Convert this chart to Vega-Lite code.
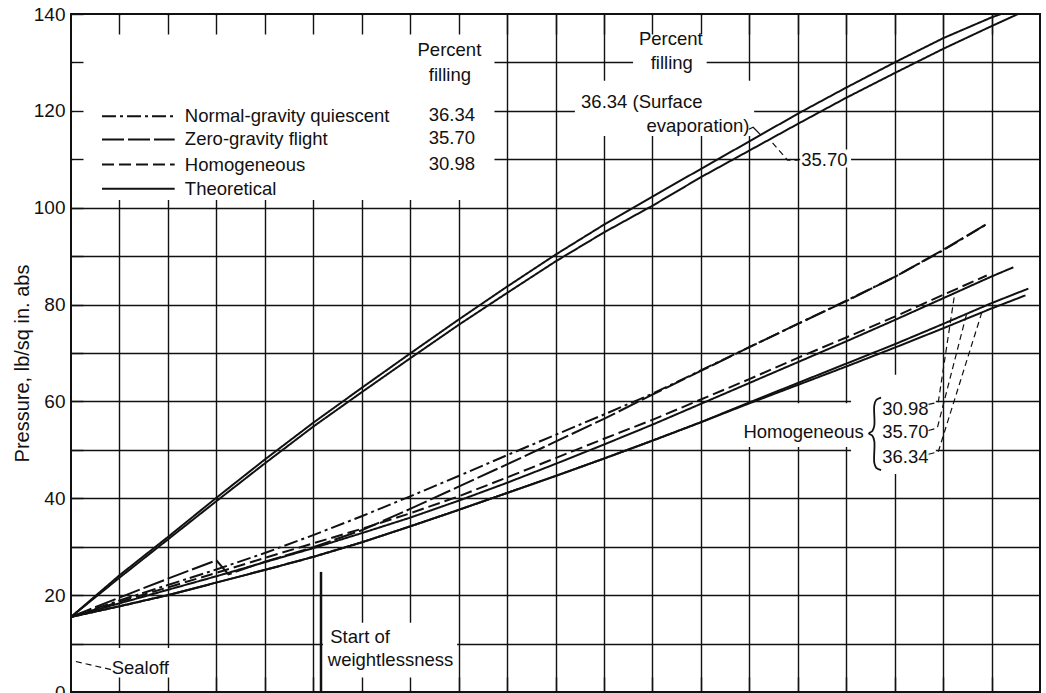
{
  "$schema": "https://vega.github.io/schema/vega-lite/v6.json",
  "width": 969,
  "height": 678,
  "autosize": "none",
  "padding": {"left": 71, "top": 14, "right": 6, "bottom": 1},
  "background": "white",
  "config": {
    "view": {"stroke": "#111", "strokeWidth": 2},
    "font": "Liberation Sans",
    "text": {"font": "Liberation Sans", "fontSize": 18.5, "color": "#111"}
  },
  "datasets": {
    "curves": [
      {"s": "Surface evaporation 36.34", "kind": "Theoretical", "t": 0, "p": 15.5},
      {"s": "Surface evaporation 36.34", "kind": "Theoretical", "t": 1, "p": 24.1},
      {"s": "Surface evaporation 36.34", "kind": "Theoretical", "t": 2, "p": 32.0},
      {"s": "Surface evaporation 36.34", "kind": "Theoretical", "t": 3, "p": 40.1},
      {"s": "Surface evaporation 36.34", "kind": "Theoretical", "t": 4, "p": 48.0},
      {"s": "Surface evaporation 36.34", "kind": "Theoretical", "t": 5, "p": 55.6},
      {"s": "Surface evaporation 36.34", "kind": "Theoretical", "t": 6, "p": 62.8},
      {"s": "Surface evaporation 36.34", "kind": "Theoretical", "t": 7, "p": 69.9},
      {"s": "Surface evaporation 36.34", "kind": "Theoretical", "t": 8, "p": 76.9},
      {"s": "Surface evaporation 36.34", "kind": "Theoretical", "t": 9, "p": 83.7},
      {"s": "Surface evaporation 36.34", "kind": "Theoretical", "t": 10, "p": 90.3},
      {"s": "Surface evaporation 36.34", "kind": "Theoretical", "t": 11, "p": 96.5},
      {"s": "Surface evaporation 36.34", "kind": "Theoretical", "t": 12, "p": 102.3},
      {"s": "Surface evaporation 36.34", "kind": "Theoretical", "t": 13, "p": 108.0},
      {"s": "Surface evaporation 36.34", "kind": "Theoretical", "t": 14, "p": 113.7},
      {"s": "Surface evaporation 36.34", "kind": "Theoretical", "t": 15, "p": 119.4},
      {"s": "Surface evaporation 36.34", "kind": "Theoretical", "t": 16, "p": 124.8},
      {"s": "Surface evaporation 36.34", "kind": "Theoretical", "t": 17, "p": 130.0},
      {"s": "Surface evaporation 36.34", "kind": "Theoretical", "t": 18, "p": 135.0},
      {"s": "Surface evaporation 36.34", "kind": "Theoretical", "t": 19, "p": 139.3},
      {"s": "Surface evaporation 36.34", "kind": "Theoretical", "t": 19.2, "p": 140.0},

      {"s": "Surface evaporation 35.70", "kind": "Theoretical", "t": 0, "p": 15.5},
      {"s": "Surface evaporation 35.70", "kind": "Theoretical", "t": 1, "p": 23.6},
      {"s": "Surface evaporation 35.70", "kind": "Theoretical", "t": 2, "p": 31.5},
      {"s": "Surface evaporation 35.70", "kind": "Theoretical", "t": 3, "p": 39.4},
      {"s": "Surface evaporation 35.70", "kind": "Theoretical", "t": 4, "p": 47.2},
      {"s": "Surface evaporation 35.70", "kind": "Theoretical", "t": 5, "p": 54.8},
      {"s": "Surface evaporation 35.70", "kind": "Theoretical", "t": 6, "p": 61.9},
      {"s": "Surface evaporation 35.70", "kind": "Theoretical", "t": 7, "p": 68.9},
      {"s": "Surface evaporation 35.70", "kind": "Theoretical", "t": 8, "p": 75.8},
      {"s": "Surface evaporation 35.70", "kind": "Theoretical", "t": 9, "p": 82.4},
      {"s": "Surface evaporation 35.70", "kind": "Theoretical", "t": 10, "p": 88.9},
      {"s": "Surface evaporation 35.70", "kind": "Theoretical", "t": 11, "p": 94.9},
      {"s": "Surface evaporation 35.70", "kind": "Theoretical", "t": 12, "p": 100.4},
      {"s": "Surface evaporation 35.70", "kind": "Theoretical", "t": 13, "p": 106.3},
      {"s": "Surface evaporation 35.70", "kind": "Theoretical", "t": 14, "p": 111.8},
      {"s": "Surface evaporation 35.70", "kind": "Theoretical", "t": 15, "p": 117.3},
      {"s": "Surface evaporation 35.70", "kind": "Theoretical", "t": 16, "p": 122.7},
      {"s": "Surface evaporation 35.70", "kind": "Theoretical", "t": 17, "p": 127.8},
      {"s": "Surface evaporation 35.70", "kind": "Theoretical", "t": 18, "p": 132.8},
      {"s": "Surface evaporation 35.70", "kind": "Theoretical", "t": 19, "p": 137.5},
      {"s": "Surface evaporation 35.70", "kind": "Theoretical", "t": 19.55, "p": 140.0},

      {"s": "Quiescent 36.34", "kind": "Normal-gravity quiescent", "t": 0, "p": 15.5},
      {"s": "Quiescent 36.34", "kind": "Normal-gravity quiescent", "t": 1, "p": 18.9},
      {"s": "Quiescent 36.34", "kind": "Normal-gravity quiescent", "t": 2, "p": 22.1},
      {"s": "Quiescent 36.34", "kind": "Normal-gravity quiescent", "t": 3, "p": 25.3},
      {"s": "Quiescent 36.34", "kind": "Normal-gravity quiescent", "t": 4, "p": 28.7},
      {"s": "Quiescent 36.34", "kind": "Normal-gravity quiescent", "t": 5, "p": 32.4},
      {"s": "Quiescent 36.34", "kind": "Normal-gravity quiescent", "t": 6, "p": 36.3},
      {"s": "Quiescent 36.34", "kind": "Normal-gravity quiescent", "t": 7, "p": 40.4},
      {"s": "Quiescent 36.34", "kind": "Normal-gravity quiescent", "t": 8, "p": 44.6},
      {"s": "Quiescent 36.34", "kind": "Normal-gravity quiescent", "t": 9, "p": 48.9},
      {"s": "Quiescent 36.34", "kind": "Normal-gravity quiescent", "t": 10, "p": 53.1},
      {"s": "Quiescent 36.34", "kind": "Normal-gravity quiescent", "t": 11, "p": 57.3},
      {"s": "Quiescent 36.34", "kind": "Normal-gravity quiescent", "t": 12, "p": 61.6},
      {"s": "Quiescent 36.34", "kind": "Normal-gravity quiescent", "t": 13, "p": 66.4},
      {"s": "Quiescent 36.34", "kind": "Normal-gravity quiescent", "t": 14, "p": 71.2},
      {"s": "Quiescent 36.34", "kind": "Normal-gravity quiescent", "t": 15, "p": 76.0},
      {"s": "Quiescent 36.34", "kind": "Normal-gravity quiescent", "t": 16, "p": 80.8},
      {"s": "Quiescent 36.34", "kind": "Normal-gravity quiescent", "t": 17, "p": 85.7},
      {"s": "Quiescent 36.34", "kind": "Normal-gravity quiescent", "t": 18, "p": 91.2},
      {"s": "Quiescent 36.34", "kind": "Normal-gravity quiescent", "t": 18.9, "p": 96.6},

      {"s": "Flight 35.70", "kind": "Zero-gravity flight", "t": 0, "p": 15.5},
      {"s": "Flight 35.70", "kind": "Zero-gravity flight", "t": 1, "p": 19.5},
      {"s": "Flight 35.70", "kind": "Zero-gravity flight", "t": 2, "p": 23.4},
      {"s": "Flight 35.70", "kind": "Zero-gravity flight", "t": 3, "p": 27.2},
      {"s": "Flight 35.70", "kind": "Zero-gravity flight", "t": 3.25, "p": 24.3},
      {"s": "Flight 35.70", "kind": "Zero-gravity flight", "t": 4, "p": 26.9},
      {"s": "Flight 35.70", "kind": "Zero-gravity flight", "t": 5, "p": 29.9},
      {"s": "Flight 35.70", "kind": "Zero-gravity flight", "t": 6, "p": 33.4},
      {"s": "Flight 35.70", "kind": "Zero-gravity flight", "t": 7, "p": 37.8},
      {"s": "Flight 35.70", "kind": "Zero-gravity flight", "t": 8, "p": 42.4},
      {"s": "Flight 35.70", "kind": "Zero-gravity flight", "t": 9, "p": 47.0},
      {"s": "Flight 35.70", "kind": "Zero-gravity flight", "t": 10, "p": 51.7},
      {"s": "Flight 35.70", "kind": "Zero-gravity flight", "t": 11, "p": 56.4},
      {"s": "Flight 35.70", "kind": "Zero-gravity flight", "t": 12, "p": 61.4},
      {"s": "Flight 35.70", "kind": "Zero-gravity flight", "t": 13, "p": 66.3},
      {"s": "Flight 35.70", "kind": "Zero-gravity flight", "t": 14, "p": 71.2},
      {"s": "Flight 35.70", "kind": "Zero-gravity flight", "t": 15, "p": 76.0},
      {"s": "Flight 35.70", "kind": "Zero-gravity flight", "t": 16, "p": 80.7},
      {"s": "Flight 35.70", "kind": "Zero-gravity flight", "t": 17, "p": 85.7},
      {"s": "Flight 35.70", "kind": "Zero-gravity flight", "t": 18, "p": 91.3},
      {"s": "Flight 35.70", "kind": "Zero-gravity flight", "t": 18.93, "p": 96.8},

      {"s": "Homogeneous 30.98", "kind": "Homogeneous", "t": 0, "p": 15.5},
      {"s": "Homogeneous 30.98", "kind": "Homogeneous", "t": 1, "p": 18.6},
      {"s": "Homogeneous 30.98", "kind": "Homogeneous", "t": 2, "p": 21.6},
      {"s": "Homogeneous 30.98", "kind": "Homogeneous", "t": 3, "p": 24.6},
      {"s": "Homogeneous 30.98", "kind": "Homogeneous", "t": 4, "p": 27.7},
      {"s": "Homogeneous 30.98", "kind": "Homogeneous", "t": 5, "p": 30.7},
      {"s": "Homogeneous 30.98", "kind": "Homogeneous", "t": 6, "p": 33.7},
      {"s": "Homogeneous 30.98", "kind": "Homogeneous", "t": 7, "p": 36.9},
      {"s": "Homogeneous 30.98", "kind": "Homogeneous", "t": 8, "p": 40.4},
      {"s": "Homogeneous 30.98", "kind": "Homogeneous", "t": 9, "p": 44.3},
      {"s": "Homogeneous 30.98", "kind": "Homogeneous", "t": 10, "p": 48.3},
      {"s": "Homogeneous 30.98", "kind": "Homogeneous", "t": 11, "p": 52.3},
      {"s": "Homogeneous 30.98", "kind": "Homogeneous", "t": 12, "p": 56.2},
      {"s": "Homogeneous 30.98", "kind": "Homogeneous", "t": 13, "p": 60.4},
      {"s": "Homogeneous 30.98", "kind": "Homogeneous", "t": 14, "p": 64.6},
      {"s": "Homogeneous 30.98", "kind": "Homogeneous", "t": 15, "p": 69.0},
      {"s": "Homogeneous 30.98", "kind": "Homogeneous", "t": 16, "p": 73.2},
      {"s": "Homogeneous 30.98", "kind": "Homogeneous", "t": 17, "p": 77.5},
      {"s": "Homogeneous 30.98", "kind": "Homogeneous", "t": 18, "p": 82.0},
      {"s": "Homogeneous 30.98", "kind": "Homogeneous", "t": 18.9, "p": 86.0},

      {"s": "Theoretical homogeneous 30.98", "kind": "Theoretical", "t": 0, "p": 15.5},
      {"s": "Theoretical homogeneous 30.98", "kind": "Theoretical", "t": 1, "p": 18.3},
      {"s": "Theoretical homogeneous 30.98", "kind": "Theoretical", "t": 2, "p": 21.1},
      {"s": "Theoretical homogeneous 30.98", "kind": "Theoretical", "t": 3, "p": 23.9},
      {"s": "Theoretical homogeneous 30.98", "kind": "Theoretical", "t": 4, "p": 26.8},
      {"s": "Theoretical homogeneous 30.98", "kind": "Theoretical", "t": 5, "p": 29.7},
      {"s": "Theoretical homogeneous 30.98", "kind": "Theoretical", "t": 6, "p": 32.8},
      {"s": "Theoretical homogeneous 30.98", "kind": "Theoretical", "t": 7, "p": 36.0},
      {"s": "Theoretical homogeneous 30.98", "kind": "Theoretical", "t": 8, "p": 39.5},
      {"s": "Theoretical homogeneous 30.98", "kind": "Theoretical", "t": 9, "p": 43.2},
      {"s": "Theoretical homogeneous 30.98", "kind": "Theoretical", "t": 10, "p": 47.1},
      {"s": "Theoretical homogeneous 30.98", "kind": "Theoretical", "t": 11, "p": 51.1},
      {"s": "Theoretical homogeneous 30.98", "kind": "Theoretical", "t": 12, "p": 55.2},
      {"s": "Theoretical homogeneous 30.98", "kind": "Theoretical", "t": 13, "p": 59.5},
      {"s": "Theoretical homogeneous 30.98", "kind": "Theoretical", "t": 14, "p": 63.8},
      {"s": "Theoretical homogeneous 30.98", "kind": "Theoretical", "t": 15, "p": 68.1},
      {"s": "Theoretical homogeneous 30.98", "kind": "Theoretical", "t": 16, "p": 72.4},
      {"s": "Theoretical homogeneous 30.98", "kind": "Theoretical", "t": 17, "p": 76.8},
      {"s": "Theoretical homogeneous 30.98", "kind": "Theoretical", "t": 18, "p": 81.3},
      {"s": "Theoretical homogeneous 30.98", "kind": "Theoretical", "t": 19, "p": 85.8},
      {"s": "Theoretical homogeneous 30.98", "kind": "Theoretical", "t": 19.45, "p": 87.7},

      {"s": "Theoretical homogeneous 35.70", "kind": "Theoretical", "t": 0, "p": 15.5},
      {"s": "Theoretical homogeneous 35.70", "kind": "Theoretical", "t": 1, "p": 17.7},
      {"s": "Theoretical homogeneous 35.70", "kind": "Theoretical", "t": 2, "p": 20.0},
      {"s": "Theoretical homogeneous 35.70", "kind": "Theoretical", "t": 3, "p": 22.6},
      {"s": "Theoretical homogeneous 35.70", "kind": "Theoretical", "t": 4, "p": 25.2},
      {"s": "Theoretical homogeneous 35.70", "kind": "Theoretical", "t": 5, "p": 27.9},
      {"s": "Theoretical homogeneous 35.70", "kind": "Theoretical", "t": 6, "p": 30.9},
      {"s": "Theoretical homogeneous 35.70", "kind": "Theoretical", "t": 7, "p": 34.2},
      {"s": "Theoretical homogeneous 35.70", "kind": "Theoretical", "t": 8, "p": 37.6},
      {"s": "Theoretical homogeneous 35.70", "kind": "Theoretical", "t": 9, "p": 41.1},
      {"s": "Theoretical homogeneous 35.70", "kind": "Theoretical", "t": 10, "p": 44.6},
      {"s": "Theoretical homogeneous 35.70", "kind": "Theoretical", "t": 11, "p": 48.2},
      {"s": "Theoretical homogeneous 35.70", "kind": "Theoretical", "t": 12, "p": 51.9},
      {"s": "Theoretical homogeneous 35.70", "kind": "Theoretical", "t": 13, "p": 55.7},
      {"s": "Theoretical homogeneous 35.70", "kind": "Theoretical", "t": 14, "p": 59.8},
      {"s": "Theoretical homogeneous 35.70", "kind": "Theoretical", "t": 15, "p": 63.8},
      {"s": "Theoretical homogeneous 35.70", "kind": "Theoretical", "t": 16, "p": 67.8},
      {"s": "Theoretical homogeneous 35.70", "kind": "Theoretical", "t": 17, "p": 71.8},
      {"s": "Theoretical homogeneous 35.70", "kind": "Theoretical", "t": 18, "p": 76.0},
      {"s": "Theoretical homogeneous 35.70", "kind": "Theoretical", "t": 19, "p": 80.3},
      {"s": "Theoretical homogeneous 35.70", "kind": "Theoretical", "t": 19.76, "p": 83.3},

      {"s": "Theoretical homogeneous 36.34", "kind": "Theoretical", "t": 0, "p": 15.5},
      {"s": "Theoretical homogeneous 36.34", "kind": "Theoretical", "t": 1, "p": 17.7},
      {"s": "Theoretical homogeneous 36.34", "kind": "Theoretical", "t": 2, "p": 20.0},
      {"s": "Theoretical homogeneous 36.34", "kind": "Theoretical", "t": 3, "p": 22.6},
      {"s": "Theoretical homogeneous 36.34", "kind": "Theoretical", "t": 4, "p": 25.2},
      {"s": "Theoretical homogeneous 36.34", "kind": "Theoretical", "t": 5, "p": 27.9},
      {"s": "Theoretical homogeneous 36.34", "kind": "Theoretical", "t": 6, "p": 30.9},
      {"s": "Theoretical homogeneous 36.34", "kind": "Theoretical", "t": 7, "p": 34.2},
      {"s": "Theoretical homogeneous 36.34", "kind": "Theoretical", "t": 8, "p": 37.6},
      {"s": "Theoretical homogeneous 36.34", "kind": "Theoretical", "t": 9, "p": 41.1},
      {"s": "Theoretical homogeneous 36.34", "kind": "Theoretical", "t": 10, "p": 44.6},
      {"s": "Theoretical homogeneous 36.34", "kind": "Theoretical", "t": 11, "p": 48.2},
      {"s": "Theoretical homogeneous 36.34", "kind": "Theoretical", "t": 12, "p": 51.9},
      {"s": "Theoretical homogeneous 36.34", "kind": "Theoretical", "t": 13, "p": 55.7},
      {"s": "Theoretical homogeneous 36.34", "kind": "Theoretical", "t": 14, "p": 59.6},
      {"s": "Theoretical homogeneous 36.34", "kind": "Theoretical", "t": 15, "p": 63.4},
      {"s": "Theoretical homogeneous 36.34", "kind": "Theoretical", "t": 16, "p": 67.2},
      {"s": "Theoretical homogeneous 36.34", "kind": "Theoretical", "t": 17, "p": 71.1},
      {"s": "Theoretical homogeneous 36.34", "kind": "Theoretical", "t": 18, "p": 75.1},
      {"s": "Theoretical homogeneous 36.34", "kind": "Theoretical", "t": 19, "p": 79.2},
      {"s": "Theoretical homogeneous 36.34", "kind": "Theoretical", "t": 19.7, "p": 81.9}
    ],
    "labelBacks": [
      {"x0": 0.03, "x1": 8.74, "y0": 101.6, "y1": 139.7},
      {"x0": 11.6, "x1": 13.12, "y0": 126.0, "y1": 139.7},
      {"x0": 10.4, "x1": 14.1, "y0": 114.8, "y1": 126.2},
      {"x0": 15.05, "x1": 16.1, "y0": 108.3, "y1": 112.0},
      {"x0": 13.95, "x1": 16.45, "y0": 50.6, "y1": 59.6},
      {"x0": 16.1, "x1": 17.85, "y0": 45.0, "y1": 65.5},
      {"x0": 0.75, "x1": 2.15, "y0": 0.3, "y1": 9.1},
      {"x0": 5.2, "x1": 7.97, "y0": 0.3, "y1": 14.3}
    ],
    "key": [
      {"kind": "Normal-gravity quiescent", "label": "Normal-gravity quiescent", "filling": "36.34", "y": 118.9},
      {"kind": "Zero-gravity flight", "label": "Zero-gravity flight", "filling": "35.70", "y": 114.1},
      {"kind": "Homogeneous", "label": "Homogeneous", "filling": "30.98", "y": 108.9},
      {"kind": "Theoretical", "label": "Theoretical", "filling": "", "y": 103.9}
    ],
    "notes": [
      {"text": "Percent", "x": 7.81, "y": 132.6, "anchor": "center"},
      {"text": "filling", "x": 7.82, "y": 127.4, "anchor": "center"},
      {"text": "Percent", "x": 12.38, "y": 134.9, "anchor": "center"},
      {"text": "filling", "x": 12.4, "y": 129.8, "anchor": "center"},
      {"text": "36.34 (Surface", "x": 11.78, "y": 121.9, "anchor": "center"},
      {"text": "evaporation)", "x": 12.94, "y": 116.8, "anchor": "center"},
      {"text": "35.70", "x": 15.55, "y": 109.9, "anchor": "center"},
      {"text": "Homogeneous", "x": 15.12, "y": 53.6, "anchor": "center"},
      {"text": "30.98", "x": 17.22, "y": 58.4, "anchor": "center"},
      {"text": "35.70", "x": 17.22, "y": 53.6, "anchor": "center"},
      {"text": "36.34", "x": 17.22, "y": 48.5, "anchor": "center"},
      {"text": "Sealoff", "x": 1.43, "y": 5.0, "anchor": "center"},
      {"text": "Start of", "x": 5.35, "y": 11.4, "anchor": "left"},
      {"text": "weightlessness", "x": 5.3, "y": 6.6, "anchor": "left"}
    ],
    "brace": [
      {"i": 0, "x": 16.72, "y": 60.8},
      {"i": 1, "x": 16.62, "y": 60.3},
      {"i": 2, "x": 16.58, "y": 59.2},
      {"i": 3, "x": 16.58, "y": 55.0},
      {"i": 4, "x": 16.54, "y": 53.9},
      {"i": 5, "x": 16.47, "y": 53.4},
      {"i": 6, "x": 16.54, "y": 52.9},
      {"i": 7, "x": 16.58, "y": 51.8},
      {"i": 8, "x": 16.58, "y": 47.3},
      {"i": 9, "x": 16.62, "y": 46.3},
      {"i": 10, "x": 16.72, "y": 45.8}
    ],
    "leaders": [
      {"id": "evaporation", "style": "solid", "i": 0, "x": 13.99, "y": 116.2},
      {"id": "evaporation", "style": "solid", "i": 1, "x": 14.08, "y": 116.6},
      {"id": "evaporation", "style": "solid", "i": 2, "x": 14.24, "y": 115.0},
      {"id": "surface 35.70", "style": "dashed", "i": 0, "x": 14.48, "y": 113.4},
      {"id": "surface 35.70", "style": "dashed", "i": 1, "x": 14.79, "y": 109.8},
      {"id": "surface 35.70", "style": "dashed", "i": 2, "x": 15.0, "y": 109.8},
      {"id": "sealoff", "style": "dashed", "i": 0, "x": 0.1, "y": 6.3},
      {"id": "sealoff", "style": "dashed", "i": 1, "x": 0.84, "y": 4.6},
      {"id": "homogeneous 30.98", "style": "dashed", "i": 0, "x": 17.7, "y": 59.4},
      {"id": "homogeneous 30.98", "style": "dashed", "i": 1, "x": 17.9, "y": 59.8},
      {"id": "homogeneous 30.98", "style": "dashed", "i": 2, "x": 18.24, "y": 82.3},
      {"id": "homogeneous 35.70", "style": "dashed", "i": 0, "x": 17.7, "y": 54.0},
      {"id": "homogeneous 35.70", "style": "dashed", "i": 1, "x": 17.88, "y": 54.5},
      {"id": "homogeneous 35.70", "style": "dashed", "i": 2, "x": 18.48, "y": 77.9},
      {"id": "homogeneous 36.34", "style": "dashed", "i": 0, "x": 17.7, "y": 49.1},
      {"id": "homogeneous 36.34", "style": "dashed", "i": 1, "x": 17.9, "y": 49.6},
      {"id": "homogeneous 36.34", "style": "dashed", "i": 2, "x": 18.8, "y": 78.4}
    ],
    "events": [
      {"event": "Start of weightlessness", "x": 5.16, "y0": 0, "y1": 24.8}
    ]
  },
  "layer": [
    {
      "data": {"name": "labelBacks"},
      "mark": {"type": "rect", "fill": "white", "strokeWidth": 0},
      "encoding": {
        "x": {
          "field": "x0", "type": "quantitative",
          "scale": {"domain": [0, 20], "nice": false, "zero": false},
          "axis": {
            "orient": "bottom", "grid": true, "gridColor": "#111", "gridWidth": 1.4, "gridOpacity": 1,
            "domain": false, "ticks": false, "labels": false, "title": null, "zindex": 0,
            "values": [1, 2, 3, 4, 5, 6, 7, 8, 9, 10, 11, 12, 13, 14, 15, 16, 17, 18, 19]
          }
        },
        "x2": {"field": "x1"},
        "y": {
          "field": "y0", "type": "quantitative",
          "scale": {"domain": [0, 140], "nice": false, "zero": false},
          "axis": {
            "orient": "left", "grid": true, "gridColor": "#111", "gridWidth": 1.4, "gridOpacity": 1,
            "domain": false, "ticks": false, "labels": false, "title": null, "zindex": 0,
            "values": [10, 20, 30, 40, 50, 60, 70, 80, 90, 100, 110, 120, 130]
          }
        },
        "y2": {"field": "y1"}
      }
    },
    {
      "data": {"name": "curves"},
      "mark": {"type": "line", "strokeWidth": 2, "color": "#111"},
      "encoding": {
        "x": {
          "field": "t", "type": "quantitative",
          "axis": {
            "orient": "top", "grid": false, "domain": false, "labels": false, "title": null,
            "ticks": true, "tickSize": -20, "tickWidth": 1.4, "tickColor": "#111", "zindex": 1,
            "values": [1, 2, 3, 4, 5, 6, 7, 8, 9, 10, 11, 12, 13, 14, 15, 16, 17, 18, 19]
          }
        },
        "y": {
          "field": "p", "type": "quantitative",
          "axis": {
            "orient": "left", "grid": false, "domain": false, "zindex": 1,
            "values": [0, 10, 20, 30, 40, 50, 60, 70, 80, 90, 100, 110, 120, 130, 140],
            "ticks": true, "tickSize": -12, "tickWidth": 1.4, "tickColor": "#111",
            "labelPadding": 18, "labelExpr": "datum.value % 20 === 0 ? datum.label : ''",
            "labelFont": "Liberation Sans", "labelFontSize": 19, "labelColor": "#111",
            "title": "Pressure, lb/sq in. abs", "titleFont": "Liberation Sans", "titleFontSize": 20,
            "titleFontWeight": "normal", "titleColor": "#111", "titleX": -49, "titleY": 349,
            "titleBaseline": "middle", "titleAlign": "center"
          }
        },
        "detail": {"field": "s"},
        "strokeDash": {
          "field": "kind", "type": "nominal", "legend": null,
          "scale": {
            "domain": ["Normal-gravity quiescent", "Zero-gravity flight", "Homogeneous", "Theoretical"],
            "range": [[14, 4, 3, 4], [22, 4], [12, 5], [1, 0]]
          }
        }
      }
    },
    {
      "data": {"name": "key"},
      "mark": {"type": "rule", "strokeWidth": 2, "color": "#111"},
      "encoding": {
        "x": {"datum": 0.64, "type": "quantitative", "axis": null},
        "x2": {"datum": 2.14},
        "y": {"field": "y", "type": "quantitative", "axis": null},
        "strokeDash": {"field": "kind", "type": "nominal", "legend": null}
      }
    },
    {
      "data": {"name": "key"},
      "mark": {"type": "text", "align": "left", "baseline": "middle"},
      "encoding": {
        "x": {"datum": 2.35, "type": "quantitative", "axis": null},
        "y": {"field": "y", "type": "quantitative", "axis": null},
        "text": {"field": "label"}
      }
    },
    {
      "data": {"name": "key"},
      "mark": {"type": "text", "align": "center", "baseline": "middle", "dy": -1},
      "encoding": {
        "x": {"datum": 7.86, "type": "quantitative", "axis": null},
        "y": {"field": "y", "type": "quantitative", "axis": null},
        "text": {"field": "filling"}
      }
    },
    {
      "data": {"name": "notes"},
      "transform": [{"filter": "datum.anchor === 'center'"}],
      "mark": {"type": "text", "align": "center", "baseline": "middle"},
      "encoding": {
        "x": {"field": "x", "type": "quantitative", "axis": null},
        "y": {"field": "y", "type": "quantitative", "axis": null},
        "text": {"field": "text"}
      }
    },
    {
      "data": {"name": "notes"},
      "transform": [{"filter": "datum.anchor === 'left'"}],
      "mark": {"type": "text", "align": "left", "baseline": "middle"},
      "encoding": {
        "x": {"field": "x", "type": "quantitative", "axis": null},
        "y": {"field": "y", "type": "quantitative", "axis": null},
        "text": {"field": "text"}
      }
    },
    {
      "data": {"name": "brace"},
      "mark": {"type": "line", "strokeWidth": 1.8, "color": "#111", "interpolate": "catmull-rom"},
      "encoding": {
        "x": {"field": "x", "type": "quantitative", "axis": null},
        "y": {"field": "y", "type": "quantitative", "axis": null},
        "order": {"field": "i"}
      }
    },
    {
      "data": {"name": "leaders"},
      "transform": [{"filter": "datum.style === 'solid'"}],
      "mark": {"type": "line", "strokeWidth": 1.2, "color": "#111"},
      "encoding": {
        "x": {"field": "x", "type": "quantitative", "axis": null},
        "y": {"field": "y", "type": "quantitative", "axis": null},
        "detail": {"field": "id"},
        "order": {"field": "i"}
      }
    },
    {
      "data": {"name": "leaders"},
      "transform": [{"filter": "datum.style === 'dashed'"}],
      "mark": {"type": "line", "strokeWidth": 1.2, "color": "#111", "strokeDash": [6, 4]},
      "encoding": {
        "x": {"field": "x", "type": "quantitative", "axis": null},
        "y": {"field": "y", "type": "quantitative", "axis": null},
        "detail": {"field": "id"},
        "order": {"field": "i"}
      }
    },
    {
      "data": {"name": "events"},
      "mark": {"type": "rule", "strokeWidth": 2.5, "color": "#111"},
      "encoding": {
        "x": {
          "field": "x", "type": "quantitative",
          "axis": {
            "orient": "bottom", "grid": false, "domain": false, "labels": false, "title": null,
            "ticks": true, "tickSize": -15, "tickWidth": 1.4, "tickColor": "#111", "zindex": 1,
            "values": [1, 2, 3, 4, 5, 6, 7, 8, 9, 10, 11, 12, 13, 14, 15, 16, 17, 18, 19]
          }
        },
        "y": {"field": "y0", "type": "quantitative", "axis": null},
        "y2": {"field": "y1"}
      }
    }
  ],
  "resolve": {"axis": {"x": "independent", "y": "independent"}}
}
